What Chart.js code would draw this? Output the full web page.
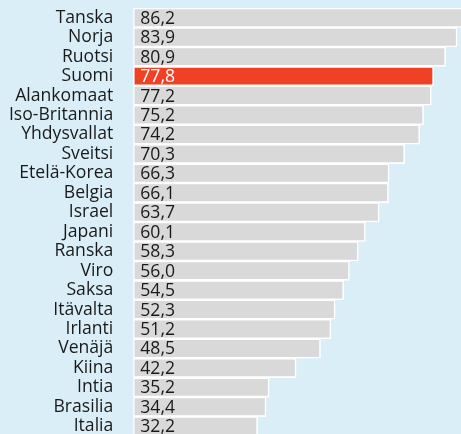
<!DOCTYPE html>
<html>
<head>
<meta charset="utf-8">
<script src="https://cdn.jsdelivr.net/npm/chart.js@4"></script>
<style>
  html, body { margin: 0; padding: 0; overflow: hidden; background: #daeef7; }
  #wrap { width: 461px; height: 436px; }
</style>
</head>
<body>
<div id="wrap"><canvas id="indexChart" width="461" height="436"></canvas></div>
<script>
const countries = [
  "Tanska", "Norja", "Ruotsi", "Suomi", "Alankomaat", "Iso-Britannia",
  "Yhdysvallat", "Sveitsi", "Etelä-Korea", "Belgia", "Israel", "Japani",
  "Ranska", "Viro", "Saksa", "Itävalta", "Irlanti", "Venäjä", "Kiina",
  "Intia", "Brasilia", "Italia"
];
const scores = [
  86.2, 83.9, 80.9, 77.8, 77.2, 75.2,
  74.2, 70.3, 66.3, 66.1, 63.7, 60.1,
  58.3, 56.0, 54.5, 52.3, 51.2, 48.5, 42.2,
  35.2, 34.4, 32.2
];
const highlight = "Suomi";

const FONT = { family: "'Open Sans', sans-serif", size: 17.6 };

// value text inside each bar, starting at the bar's base
const valueLabels = {
  id: "valueLabels",
  afterDatasetsDraw(chart) {
    const ctx = chart.ctx;
    const meta = chart.getDatasetMeta(0);
    ctx.save();
    ctx.font = FONT.size + "px " + FONT.family;
    ctx.textBaseline = "middle";
    ctx.textAlign = "left";
    meta.data.forEach(function (bar, i) {
      ctx.fillStyle = countries[i] === highlight ? "#ffffff" : "#1a1a1a";
      ctx.fillText(scores[i].toFixed(1).replace(".", ","), bar.base + 7, bar.y + 1);
    });
    ctx.restore();
  }
};

new Chart(document.getElementById("indexChart"), {
  type: "bar",
  data: {
    labels: countries,
    datasets: [{
      data: scores,
      backgroundColor: countries.map(c => c === highlight ? "#ef4123" : "#d9d9d9"),
      borderColor: "#ffffff",
      borderWidth: 1.6,
      borderSkipped: false,
      barPercentage: 1,
      categoryPercentage: 1
    }]
  },
  options: {
    indexAxis: "y",
    responsive: false,
    devicePixelRatio: 1,
    animation: false,
    layout: { padding: { top: 8, left: 0, right: 0, bottom: 0 } },
    plugins: { legend: { display: false }, tooltip: { enabled: false } },
    scales: {
      x: { display: false, min: 0, max: 84.9 },
      y: {
        grid: { display: false, drawTicks: false },
        border: { display: false },
        ticks: { color: "#1a1a1a", font: FONT, padding: 20, autoSkip: false },
        afterFit(scale) {
          // fixed axis width; labels sit inside their category bands
          scale.width = 133.3;
          scale.paddingTop = 0;
          scale.paddingBottom = 0;
        }
      }
    }
  },
  plugins: [valueLabels]
});
</script>
</body>
</html>
